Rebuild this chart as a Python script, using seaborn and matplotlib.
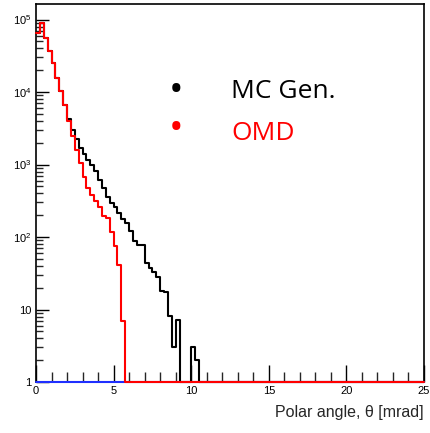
import numpy as np
import pandas as pd
import matplotlib
matplotlib.use("Agg")
import matplotlib.pyplot as plt
import seaborn as sns
from matplotlib.ticker import FixedLocator, LogLocator, MultipleLocator, NullFormatter

sns.set_style("ticks")
plt.rcParams['font.family'] = ['Liberation Sans', 'DejaVu Sans']
plt.rcParams['mathtext.fontset'] = 'custom'
plt.rcParams['mathtext.rm'] = 'Liberation Sans'
plt.rcParams['mathtext.it'] = 'Liberation Sans:italic'

# ---- data (bin width 0.25 mrad, 0..25 mrad) ----
bin_width = 0.25
x_range = (0.0, 25.0)
bin_centers = np.arange(x_range[0] + bin_width / 2, x_range[1], bin_width)

# log10 of counts, first bins (rest are zero)
omd_log10 = [4.81, 4.95, 4.74, 4.57, 4.40, 4.20, 4.02, 3.82, 3.60, 3.40,
             3.20, 3.02, 2.83, 2.68, 2.58, 2.50, 2.41, 2.29, 2.26, 2.07,
             1.88, 1.61, 0.84]
mcgen_log10 = [4.81, 4.95, 4.74, 4.57, 4.40, 4.20, 4.02, 3.82, 3.63, 3.48,
               3.35, 3.23, 3.15, 3.06, 2.99, 2.91, 2.79, 2.68, 2.55, 2.47,
               2.41, 2.33, 2.25, 2.19, 2.08, 1.95, 1.89, 1.89, 1.64, 1.57,
               1.52, 1.45, 1.26, 1.24, 0.91, 0.48, 0.85, None, None, None,
               0.48, 0.30]

def to_counts(logs, n):
    out = np.zeros(n)
    for i, v in enumerate(logs):
        if v is not None:
            out[i] = 10 ** v
    return out

n_bins = len(bin_centers)
mcgen_counts = to_counts(mcgen_log10, n_bins)
omd_counts = to_counts(omd_log10, n_bins)
blue_counts = np.zeros(n_bins)

y_floor = 1.0
df = pd.DataFrame({
    "theta": np.concatenate([bin_centers] * 3),
    "counts": np.concatenate([np.clip(mcgen_counts, y_floor, None),
                              np.clip(blue_counts, y_floor, None),
                              np.clip(omd_counts, y_floor, None)]),
    "series": ["MC Gen."] * n_bins + ["other"] * n_bins + ["OMD"] * n_bins,
})

W, H = 431, 433
fig = plt.figure(figsize=(W / 100, H / 100), dpi=100)
ax = fig.add_axes([36 / W, (H - 382) / H, 388 / W, 378 / H])

colors = {"MC Gen.": "black", "other": "#1f2fff", "OMD": "#ff0000"}
for z, name in enumerate(["MC Gen.", "other", "OMD"]):
    sub = df[df.series == name].reset_index(drop=True)
    sns.histplot(data=sub, x="theta", weights="counts",
                 binwidth=bin_width, binrange=x_range,
                 element="step", fill=False, color=colors[name],
                 linewidth=1.5, ax=ax, clip_on=False, zorder=5 + z)

ax.set_yscale("log")
ax.set_xlim(0, 25)
ax.set_ylim(1, 1.64e5)

ax.xaxis.set_major_locator(MultipleLocator(5))
ax.xaxis.set_minor_locator(MultipleLocator(1))
ax.yaxis.set_major_locator(FixedLocator([1, 10, 100, 1e3, 1e4, 1e5]))
ax.yaxis.set_minor_locator(LogLocator(base=10, subs=np.arange(2, 10)))
ax.yaxis.set_minor_formatter(NullFormatter())
ax.set_yticks([1, 10, 100, 1e3, 1e4, 1e5])
ax.set_yticklabels(["1", "10", r"$10^2$", r"$10^3$", r"$10^4$", r"$10^5$"])
ax.set_xticks([0, 5, 10, 15, 20, 25])
ax.set_xticklabels(["0", "5", "10", "15", "20", "25"])

ax.tick_params(axis="both", which="major", direction="in", length=9, width=1,
               labelsize=8, colors="black", pad=3)
ax.tick_params(axis="both", which="minor", direction="in", length=5, width=1)
ax.tick_params(axis="x", which="major", length=12)
ax.tick_params(axis="x", which="minor", length=7)

for s in ax.spines.values():
    s.set_linewidth(1.2)
    s.set_color("black")
    s.set_zorder(2)

ax.set_ylabel("")
ax.set_xlabel("Polar angle, \u03b8 [mrad]", loc="right", fontsize=11.5, labelpad=6)

# overlay legend text
fig.text(176 / W, 1 - 92 / H, "\u2022", fontsize=28, color="black",
         ha="center", va="center", family="Open Sans")
fig.text(176 / W, 1 - 130 / H, "\u2022", fontsize=28, color="#ff0000",
         ha="center", va="center", family="Open Sans")
fig.text(231 / W, 1 - 91 / H, "MC Gen.", fontsize=19, color="black",
         ha="left", va="center", family="Open Sans")
fig.text(231 / W, 1 - 133 / H, "OMD", fontsize=19, color="#ff0000",
         ha="left", va="center", family="Open Sans")

fig.savefig("out.png", dpi=100)
